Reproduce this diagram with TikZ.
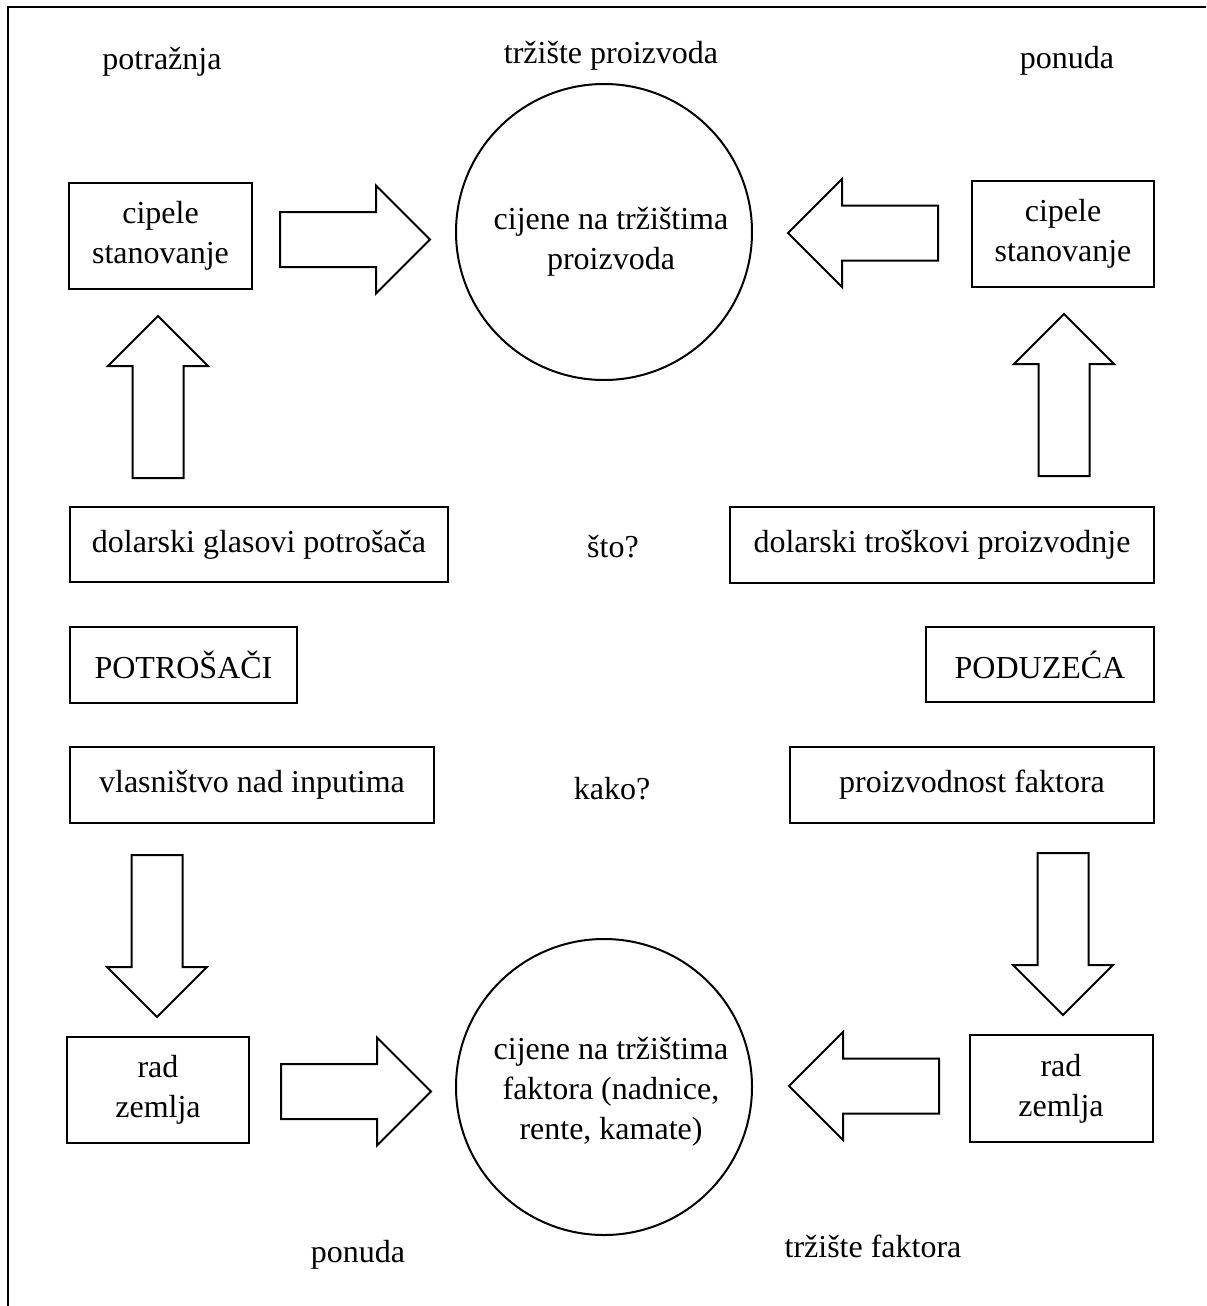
\documentclass[tikz,border=0pt]{standalone}
\usepackage{fontspec}
\setmainfont{Liberation Serif}
\usetikzlibrary{shapes.arrows}
\begin{document}
\begin{tikzpicture}[x=0.5pt, y=-0.5pt,
	every node/.style={font=\fontsize{16}{20}\selectfont},
	box/.style={draw, line width=1pt, inner sep=0pt, align=center},
	market/.style={draw, circle, line width=1pt, minimum size=148pt, inner sep=0pt},
	txt/.style={align=center, inner sep=0pt},
	hfat/.style={single arrow, draw, line width=1pt, inner xsep=0pt, inner ysep=13.25pt, single arrow tip angle=90, minimum height=75pt, single arrow head extend=13.25pt, anchor=tail},
	vfat/.style={single arrow, draw, line width=1pt, inner xsep=0pt, inner ysep=12.25pt, single arrow tip angle=90, minimum height=81pt, single arrow head extend=12.25pt, anchor=tail}]
	\useasboundingbox (0,0) rectangle (1206,1306);
	\draw[line width=1pt] (8,1306) -- (8,7) -- (1206,7);
	\node[txt, anchor=base] (potraznja) at (162,69) {potražnja};
	\node[txt, anchor=base] (trzproizv) at (611,63) {tržište proizvoda};
	\node[txt, anchor=base] (ponudagore) at (1067,68) {ponuda};
	\node[market] (krugproizv) at (604,232) {};
	\node[txt] (cijeneproizv) at (611,242) {cijene na tržištima\\proizvoda};
	\node[box, minimum width=91.5pt, minimum height=53pt] (dobraL) at (160.5,236) {cipele\\stanovanje};
	\node[box, minimum width=91pt, minimum height=53pt] (dobraD) at (1063,234) {cipele\\stanovanje};
	\node[hfat] (strL1) at (279,239.5) {};
	\node[hfat, rotate=180] (strD1) at (939,233) {};
	\node[vfat, rotate=90] (strL2) at (158,479) {};
	\node[vfat, rotate=90] (strD2) at (1064,477) {};
	\node[box, minimum width=189pt, minimum height=37.5pt] (glasovi) at (259,544.5) {dolarski glasovi potrošača};
	\node[txt, anchor=base] (sto) at (613,557) {što?};
	\node[box, minimum width=212pt, minimum height=38pt] (troskovi) at (942,545) {dolarski troškovi proizvodnje};
	\node[box, minimum width=113.5pt, minimum height=38pt] (potrosaci) at (183.5,665) {POTROŠAČI};
	\node[box, minimum width=114pt, minimum height=37.5pt] (poduzeca) at (1040,664.5) {PODUZEĆA};
	\node[box, minimum width=182pt, minimum height=38pt] (vlasnistvo) at (252,785) {vlasništvo nad inputima};
	\node[txt, anchor=base] (kako) at (612,799) {kako?};
	\node[box, minimum width=182pt, minimum height=38pt] (proizvodnost) at (972,785) {proizvodnost faktora};
	\node[vfat, rotate=-90] (strL3) at (157,854) {};
	\node[vfat, rotate=-90] (strD3) at (1063,852) {};
	\node[box, minimum width=91pt, minimum height=53pt] (faktoriL) at (158,1090) {rad\\zemlja};
	\node[box, minimum width=91.5pt, minimum height=53.5pt] (faktoriD) at (1061,1088.5) {rad\\zemlja};
	\node[hfat] (strL4) at (280,1091.5) {};
	\node[hfat, rotate=180] (strD4) at (940,1086) {};
	\node[market] (krugfakt) at (604,1087) {};
	\node[txt] (cijenefakt) at (611,1092) {cijene na tržištima\\faktora (nadnice,\\rente, kamate)};
	\node[txt, anchor=base] (ponudadolje) at (358,1262) {ponuda};
	\node[txt, anchor=base] (trzfakt) at (873,1257) {tržište faktora};
\end{tikzpicture}
\end{document}
